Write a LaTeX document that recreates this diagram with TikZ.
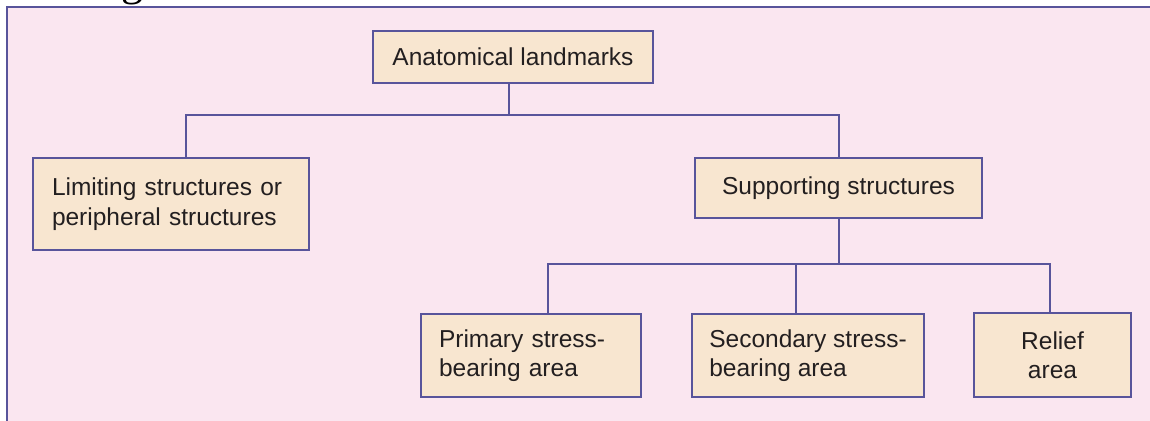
\documentclass[tikz,border=0pt]{standalone}
\usepackage{fontspec}
\setmainfont{Liberation Sans}
\newfontfamily\serifg{Liberation Serif}
\definecolor{bgpink}{RGB}{250,230,240}
\definecolor{boxfill}{RGB}{248,230,208}
\definecolor{linecol}{RGB}{88,84,155}
\definecolor{txtcol}{RGB}{35,31,32}
\tikzset{
  box/.style={draw=linecol, line width=2pt, fill=boxfill, text=txtcol,
    inner xsep=0pt, inner ysep=0pt,
    font=\fontsize{24.5}{29.5}\selectfont},
  conn/.style={draw=linecol, line width=2pt},
  frame/.style={draw=linecol, line width=2pt, fill=bgpink}
}
\begin{document}
\begin{tikzpicture}[x=1pt, y=-1pt]
\useasboundingbox (0,0) rectangle (1150,420);
\begin{scope}
  \clip (0,0) rectangle (1150,420);
  \fill[white] (0,0) rectangle (1150,420);
  \draw[frame] (7,7) rectangle (1165,435);
  \node[anchor=base, inner sep=0pt, text=black, font=\serifg\fontsize{44}{44}\selectfont] (gfrag) at (132,-4.5) {g};
\end{scope}

% nodes
\node[box, minimum width=280pt, minimum height=52pt, align=center] (anat) at (513,57) {Anatomical landmarks};
\node[box, minimum width=276pt, minimum height=92pt, text width=238pt, align=left] (lim) at (171,204) {Limiting structures or\\peripheral structures};
\node[box, minimum width=287pt, minimum height=60pt, align=center] (sup) at (838.5,188) {Supporting structures};
\node[box, minimum width=220pt, minimum height=83pt, text width=184pt, align=left] (prim) at (531,355.5) {Primary stress-\\bearing area};
\node[box, minimum width=232pt, minimum height=83pt, align=left] (sec) at (808,355.5) {Secondary stress-\\bearing area};
\node[box, minimum width=157pt, minimum height=84pt, align=center] (rel) at (1052.5,355) {Relief\\area};

% junctions
\coordinate (j1) at (509,115);
\coordinate (j2) at (838,264);
\coordinate (anatBot) at ([xshift=-4pt]anat.south);
\coordinate (limTop) at ([xshift=15pt]lim.north);
\coordinate (primTop) at ([xshift=17pt]prim.north);
\coordinate (secTop) at ([xshift=-12pt]sec.north);
\coordinate (relTop) at ([xshift=-3pt]rel.north);

% connectors
\draw[conn] (anatBot) -- (j1);
\draw[conn] (limTop) |- (j1) -| (sup.north);
\draw[conn] (sup.south) -- (sup.south |- j2);
\draw[conn] (primTop) |- (j2) -| (relTop);
\draw[conn] (secTop) -- (secTop |- j2);
\end{tikzpicture}
\end{document}
